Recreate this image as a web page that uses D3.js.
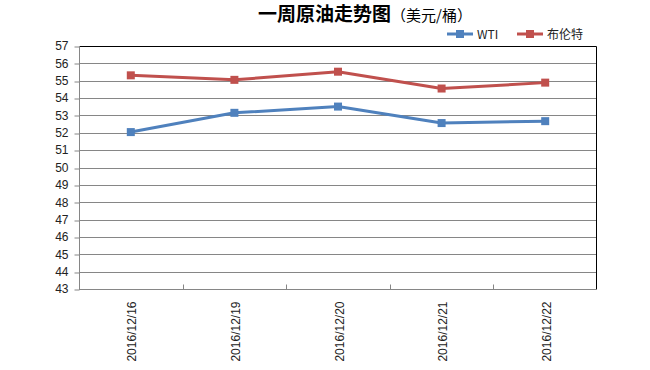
<!DOCTYPE html>
<html>
<head>
<meta charset="utf-8">
<script src="https://cdn.jsdelivr.net/npm/d3@7"></script>
<style>
    body { margin: 0; background: #fff; }
    svg { display: block; font-family: "Liberation Sans", Arial, sans-serif; }
</style>
</head>
<body>
<div id="chart"></div>
<script>
(function () {
    "use strict";

    var categories = ["2016/12/16", "2016/12/19", "2016/12/20", "2016/12/21", "2016/12/22"];
    var wtiValues = [52.04, 53.15, 53.51, 52.56, 52.67];
    var brentValues = [55.31, 55.05, 55.52, 54.55, 54.89];
    var seriesNames = ["WTI", "布伦特"];
    var yTicks = [43, 44, 45, 46, 47, 48, 49, 50, 51, 52, 53, 54, 55, 56, 57];

    var w = 650;
    var h = 370;
    var left = 79, right = 597, top = 46, bottom = 289;

    var series = [
        { name: seriesNames[0], values: wtiValues, color: "#4F81BD" },
        { name: seriesNames[1], values: brentValues, color: "#C0504D" }
    ];

    var svg = d3.select("#chart")
        .append("svg")
        .attr("width", w)
        .attr("height", h);

    var x = d3.scaleBand().domain(categories).range([left, right]);
    var y = d3.scaleLinear().domain([43, 57]).range([bottom, top]);

    // gridlines
    svg.append("g")
        .selectAll("line")
        .data(yTicks.slice(1, -1))
        .enter()
        .append("line")
        .attr("x1", left)
        .attr("x2", right)
        .attr("y1", function (d) { return Math.round(y(d)) + 0.5; })
        .attr("y2", function (d) { return Math.round(y(d)) + 0.5; })
        .attr("stroke", "#868686")
        .attr("stroke-width", 1);

    // plot border (top and right)
    svg.append("path")
        .attr("d", "M" + left + "," + (top + 0.5) + "H" + (right - 0.5) + "V" + bottom)
        .attr("fill", "none")
        .attr("stroke", "#000")
        .attr("stroke-width", 1);

    // y axis
    var yAxis = svg.append("g")
        .attr("transform", "translate(" + (left + 0.5) + ",0)")
        .call(d3.axisLeft(y).tickValues(yTicks).tickSize(5).tickPadding(6).tickFormat(d3.format("d")));
    yAxis.select(".domain").attr("stroke", "#868686").attr("d", "M0," + top + "V" + bottom);
    yAxis.selectAll(".tick line").attr("stroke", "#868686").attr("y1", function (d) { return Math.round(y(d)) - y(d) + 0.5; }).attr("y2", function (d) { return Math.round(y(d)) - y(d) + 0.5; });
    yAxis.selectAll("text")
        .attr("font-size", "12px")
        .attr("fill", "#222");

    // x axis
    var xAxis = svg.append("g")
        .attr("transform", "translate(0," + (bottom + 0.5) + ")");
    xAxis.append("line")
        .attr("x1", left)
        .attr("x2", right)
        .attr("stroke", "#868686");
    xAxis.selectAll(".sep")
        .data(categories.slice(1))
        .enter()
        .append("line")
        .attr("class", "sep")
        .attr("x1", function (d) { return Math.round(x(d)) + 0.5; })
        .attr("x2", function (d) { return Math.round(x(d)) + 0.5; })
        .attr("y1", 0)
        .attr("y2", -5)
        .attr("stroke", "#868686");
    xAxis.selectAll("text")
        .data(categories)
        .enter()
        .append("text")
        .attr("transform", function (d) {
            return "translate(" + (x(d) + x.bandwidth() / 2 + 5.5) + ",12) rotate(-90)";
        })
        .attr("text-anchor", "end")
        .attr("font-size", "12px")
        .attr("fill", "#222")
        .text(function (d) { return d; });

    // lines and markers
    var line = d3.line()
        .x(function (d, i) { return x(categories[i]) + x.bandwidth() / 2; })
        .y(function (d) { return y(d); });

    series.forEach(function (s) {
        svg.append("path")
            .datum(s.values)
            .attr("d", line)
            .attr("fill", "none")
            .attr("stroke", s.color)
            .attr("stroke-width", 3)
            .attr("stroke-linejoin", "round");
        svg.selectAll(null)
            .data(s.values)
            .enter()
            .append("rect")
            .attr("x", function (d, i) { return x(categories[i]) + x.bandwidth() / 2 - 4; })
            .attr("y", function (d) { return y(d) - 4; })
            .attr("width", 8)
            .attr("height", 8)
            .attr("fill", s.color);
    });

    // title
    var title = svg.append("text")
        .attr("x", 258)
        .attr("y", 21)
        .attr("text-anchor", "start")
        .attr("font-family", "'Noto Sans CJK SC', sans-serif");
    title.append("tspan")
        .attr("font-size", "19px")
        .attr("font-weight", "bold")
        .attr("fill", "#000")
        .text("一周原油走势图");
    title.append("tspan")
        .attr("font-size", "15px")
        .attr("fill", "#000")
        .text("（美元/桶）");

    // legend
    var legendX = [447, 517];
    series.forEach(function (s, i) {
        var g = svg.append("g").attr("transform", "translate(" + legendX[i] + ",34)");
        g.append("line")
            .attr("x1", 0).attr("x2", 26)
            .attr("stroke", s.color)
            .attr("stroke-width", 3);
        g.append("rect")
            .attr("x", 9).attr("y", -4)
            .attr("width", 8).attr("height", 8)
            .attr("fill", s.color);
        g.append("text")
            .attr("x", 30)
            .attr("y", 4.5)
            .attr("font-size", "12px")
            .attr("font-family", "'Noto Sans CJK SC', sans-serif")
            .attr("fill", "#222")
            .text(s.name);
    });
})();
</script>
</body>
</html>
